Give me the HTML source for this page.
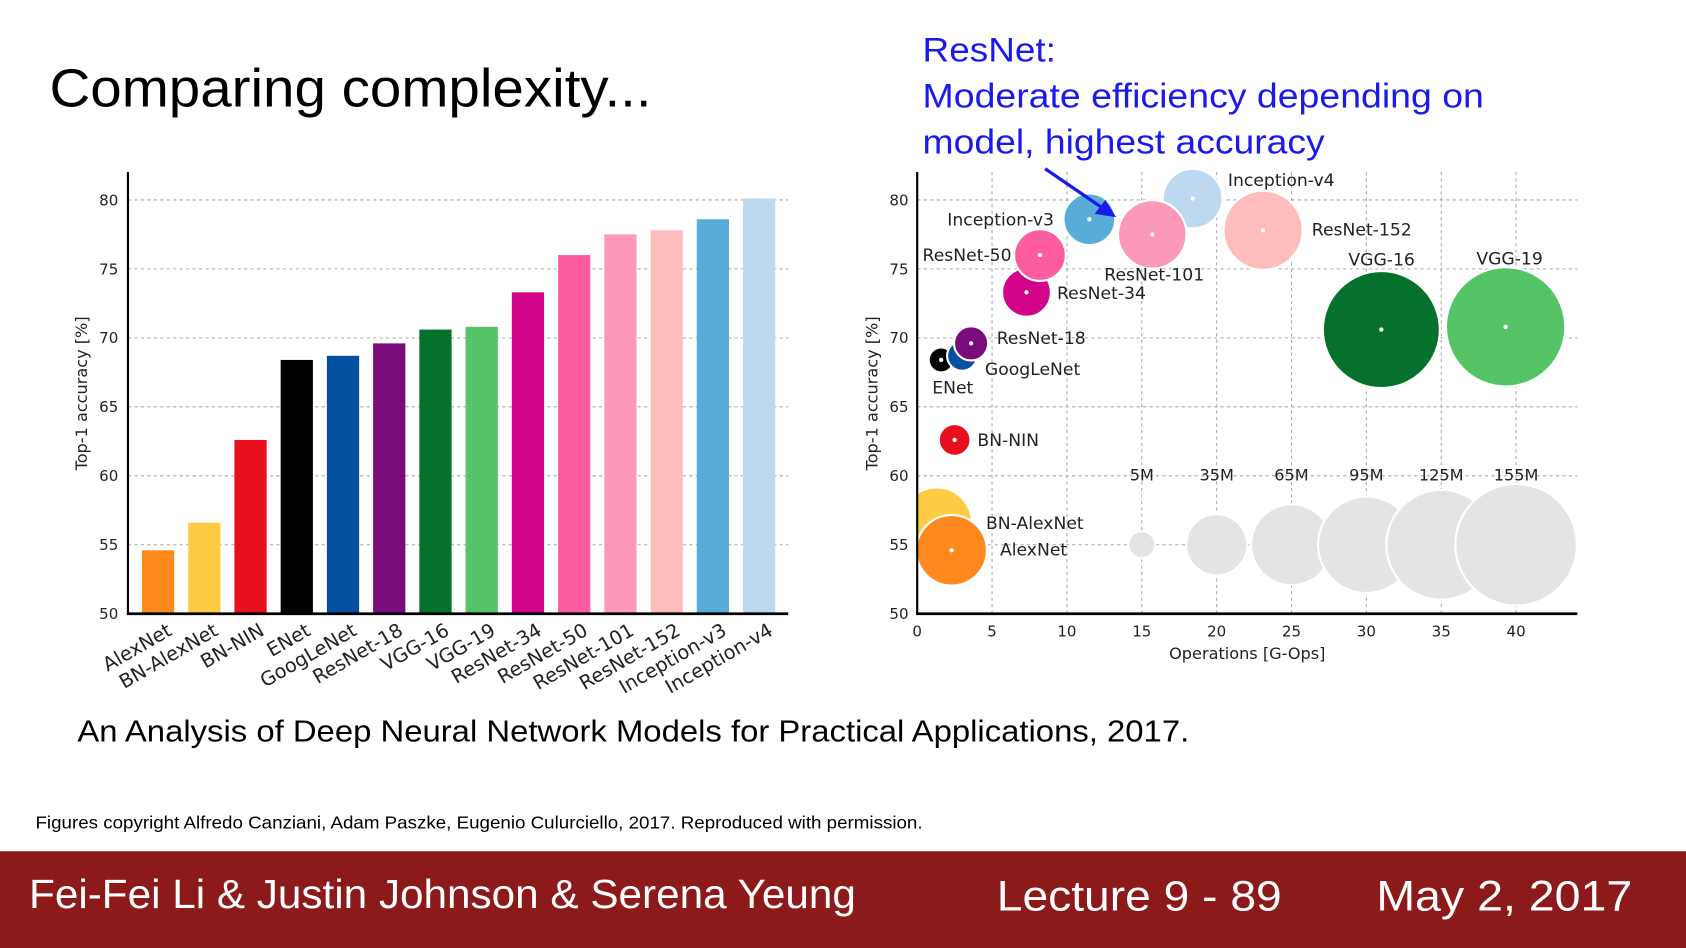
<!DOCTYPE html>
<html><head><meta charset="utf-8"><style>
html,body{margin:0;padding:0;background:#fff;overflow:hidden}
svg{display:block}
text{font-family:"DejaVu Sans","Liberation Sans",sans-serif}
.sl{font-family:"Liberation Sans",sans-serif}
</style></head><body>
<svg id="s" width="1686" height="948" viewBox="0 0 1568 882" preserveAspectRatio="none">
<text class="sl" x="46" y="99" font-size="50" fill="#000" textLength="560" lengthAdjust="spacingAndGlyphs">Comparing complexity...</text>
<g fill="#1a1aee" font-size="32" class="sl">
<text class="sl" x="858" y="57" textLength="124" lengthAdjust="spacingAndGlyphs">ResNet:</text>
<text class="sl" x="858" y="100" textLength="522" lengthAdjust="spacingAndGlyphs">Moderate efficiency depending on</text>
<text class="sl" x="858" y="143" textLength="374" lengthAdjust="spacingAndGlyphs">model, highest accuracy</text>
</g>
<g id="bar"></g>
<g id="bub"></g>
<g>
<line x1="972" y1="157" x2="1026" y2="194" stroke="#1a1aee" stroke-width="3"/>
<polygon points="1038,202 1018,199 1028,186" fill="#1a1aee"/>
</g>
<text class="sl" x="72" y="690" font-size="28" fill="#000" textLength="1034" lengthAdjust="spacingAndGlyphs">An Analysis of Deep Neural Network Models for Practical Applications, 2017.</text>
<text class="sl" x="33" y="771" font-size="16" fill="#000" textLength="825" lengthAdjust="spacingAndGlyphs">Figures copyright Alfredo Canziani, Adam Paszke, Eugenio Culurciello, 2017. Reproduced with permission.</text>
<rect x="0" y="792" width="1568" height="90" fill="#8c1a1a"/>
<text class="sl" x="27" y="845" font-size="38" fill="#fff" textLength="769" lengthAdjust="spacingAndGlyphs">Fei-Fei Li &amp; Justin Johnson &amp; Serena Yeung</text>
<text class="sl" x="927" y="847" font-size="40" fill="#fff" textLength="265" lengthAdjust="spacingAndGlyphs">Lecture 9 - 89</text>
<text class="sl" x="1280" y="847" font-size="40" fill="#fff" textLength="238" lengthAdjust="spacingAndGlyphs">May 2, 2017</text>
</svg>
<script>
const models=["AlexNet","BN-AlexNet","BN-NIN","ENet","GoogLeNet","ResNet-18","VGG-16","VGG-19","ResNet-34","ResNet-50","ResNet-101","ResNet-152","Inception-v3","Inception-v4"];
const accuracy=[54.6,56.6,62.6,68.4,68.7,69.6,70.6,70.8,73.3,76.0,77.5,77.8,78.6,80.1];
const colors=["#fe8a1f","#fecb42","#e8101f","#000000","#0650a0","#7a0b7a","#06712d","#55c466","#d4048a","#fd5da0","#fd99b8","#fdbdbd","#57acd8","#bed8ef"];
const bubModels=["BN-AlexNet","AlexNet","BN-NIN","ENet","GoogLeNet","ResNet-18","ResNet-34","ResNet-50","Inception-v3","Inception-v4","ResNet-101","ResNet-152","VGG-16","VGG-19"];
const bubOps=[1.3,2.3,2.5,1.6,3.0,3.6,7.3,8.2,11.5,18.4,15.7,23.1,31.0,39.3];
const bubAcc=[56.6,54.6,62.6,68.4,68.7,69.6,73.3,76.0,78.6,80.1,77.5,77.8,70.6,70.8];
const bubParams=[48,48,7.5,4,6.5,9,21,24,24,33,45,62,143,149];
const bubColors=["#fecb42","#fe8a1f","#e8101f","#000000","#0650a0","#7a0b7a","#d4048a","#fd5da0","#57acd8","#bed8ef","#fd99b8","#fdbdbd","#06712d","#55c466"];
const legParams=[5,35,65,95,125,155];
const legOps=[15,20,25,30,35,40];
const yTicks=[50,55,60,65,70,75,80];
const xTicks=[0,5,10,15,20,25,30,35,40];
const NS="http://www.w3.org/2000/svg";
function mk(p,t,a,txt){const e=document.createElementNS(NS,t);for(const k in a)e.setAttribute(k,a[k]);if(txt!==undefined)e.textContent=txt;p.appendChild(e);return e;}
const Y=v=>571-(v-50)*(385/30);
const rad=p=>4.3*Math.sqrt(p)+3;
const bar=document.getElementById('bar');
const BX=i=>147+i*43;
yTicks.forEach(t=>{
 if(t>50){const g=mk(bar,'line',{x1:119,x2:733,y1:Y(t),y2:Y(t),stroke:'#aaa','stroke-dasharray':'3,3','stroke-width':1});
 
 }
 const l=mk(bar,'text',{x:110,y:Y(t)+5,'font-size':14,'text-anchor':'end',fill:'#222'},t);
 
 
});
models.forEach((m,i)=>{
 const r=mk(bar,'rect',{x:BX(i)-15,y:Y(accuracy[i]),width:30,height:571-Y(accuracy[i]),fill:colors[i]});
 
 
 const t=mk(bar,'text',{x:BX(i)+14,y:590,'font-size':18,'text-anchor':'end',fill:'#222',transform:`rotate(-30 ${BX(i)+14} 590)`},m);
 
 
});
let a1=mk(bar,'line',{x1:119,x2:119,y1:160,y2:572,stroke:'#000','stroke-width':2});


let a2=mk(bar,'line',{x1:118,x2:733,y1:571,y2:571,stroke:'#000','stroke-width':2.5});


let yt=mk(bar,'text',{x:81,y:366,'font-size':15,'text-anchor':'middle',fill:'#222',transform:'rotate(-90 81 366)'},'Top-1 accuracy [%]');


const bub=document.getElementById('bub');
const X=v=>853+v*(557/40);
const clip=mk(bub,'clipPath',{id:'cp'});mk(clip,'rect',{x:853,y:150,width:615,height:421});
xTicks.forEach(t=>{
 if(t>0){const g=mk(bub,'line',{x1:X(t),x2:X(t),y1:160,y2:571,stroke:'#aaa','stroke-dasharray':'3,3'});
 
 }
 const l=mk(bub,'text',{x:X(t),y:592,'font-size':14,'text-anchor':'middle',fill:'#222'},t);
 
 
});
yTicks.forEach(t=>{
 if(t>50){const g=mk(bub,'line',{x1:853,x2:1467,y1:Y(t),y2:Y(t),stroke:'#aaa','stroke-dasharray':'3,3'});
 
 }
 const l=mk(bub,'text',{x:845,y:Y(t)+5,'font-size':14,'text-anchor':'end',fill:'#222'},t);
 
 
});
const cg=mk(bub,'g',{'clip-path':'url(#cp)'});
legParams.forEach((p,i)=>{
 const c=mk(cg,'circle',{cx:X(legOps[i]),cy:Y(55),r:rad(p),fill:'#e4e4e4',stroke:'#fff','stroke-width':2});
 
 
 const t=mk(bub,'text',{x:X(legOps[i]),y:447,'font-size':15,'text-anchor':'middle',fill:'#222'},p+'M');
 
 
});
bubModels.forEach((m,i)=>{
 const cx=X(bubOps[i]),cy=Y(bubAcc[i]);
 const c=mk(cg,'circle',{cx:cx,cy:cy,r:rad(bubParams[i]),fill:bubColors[i],stroke:'#fff','stroke-width':2});
 
 
 const d=mk(cg,'circle',{cx:cx,cy:cy,r:2,fill:'#fff'});
 
 
});
const labs=[["Inception-v4",1142,173],["Inception-v3",881,210],["ResNet-152",1220,219],["ResNet-50",858,243],["VGG-16",1254,247],["VGG-19",1373,246],["ResNet-101",1027,261],["ResNet-34",983,278],["ResNet-18",927,320],["GoogLeNet",916,349],["ENet",867,366],["BN-NIN",909,415],["BN-AlexNet",917,492],["AlexNet",930,517]];
labs.forEach(l=>{
 const t=mk(bub,'text',{x:l[1],y:l[2],'font-size':16,fill:'#222'},l[0]);
 
 
});
let b1=mk(bub,'line',{x1:853,x2:853,y1:160,y2:572,stroke:'#000','stroke-width':2});


let b2=mk(bub,'line',{x1:852,x2:1467,y1:571,y2:571,stroke:'#000','stroke-width':2.5});


let bt=mk(bub,'text',{x:1160,y:613,'font-size':15,'text-anchor':'middle',fill:'#222'},'Operations [G-Ops]');


let by=mk(bub,'text',{x:816,y:366,'font-size':15,'text-anchor':'middle',fill:'#222',transform:'rotate(-90 816 366)'},'Top-1 accuracy [%]');


</script>
</body></html>
